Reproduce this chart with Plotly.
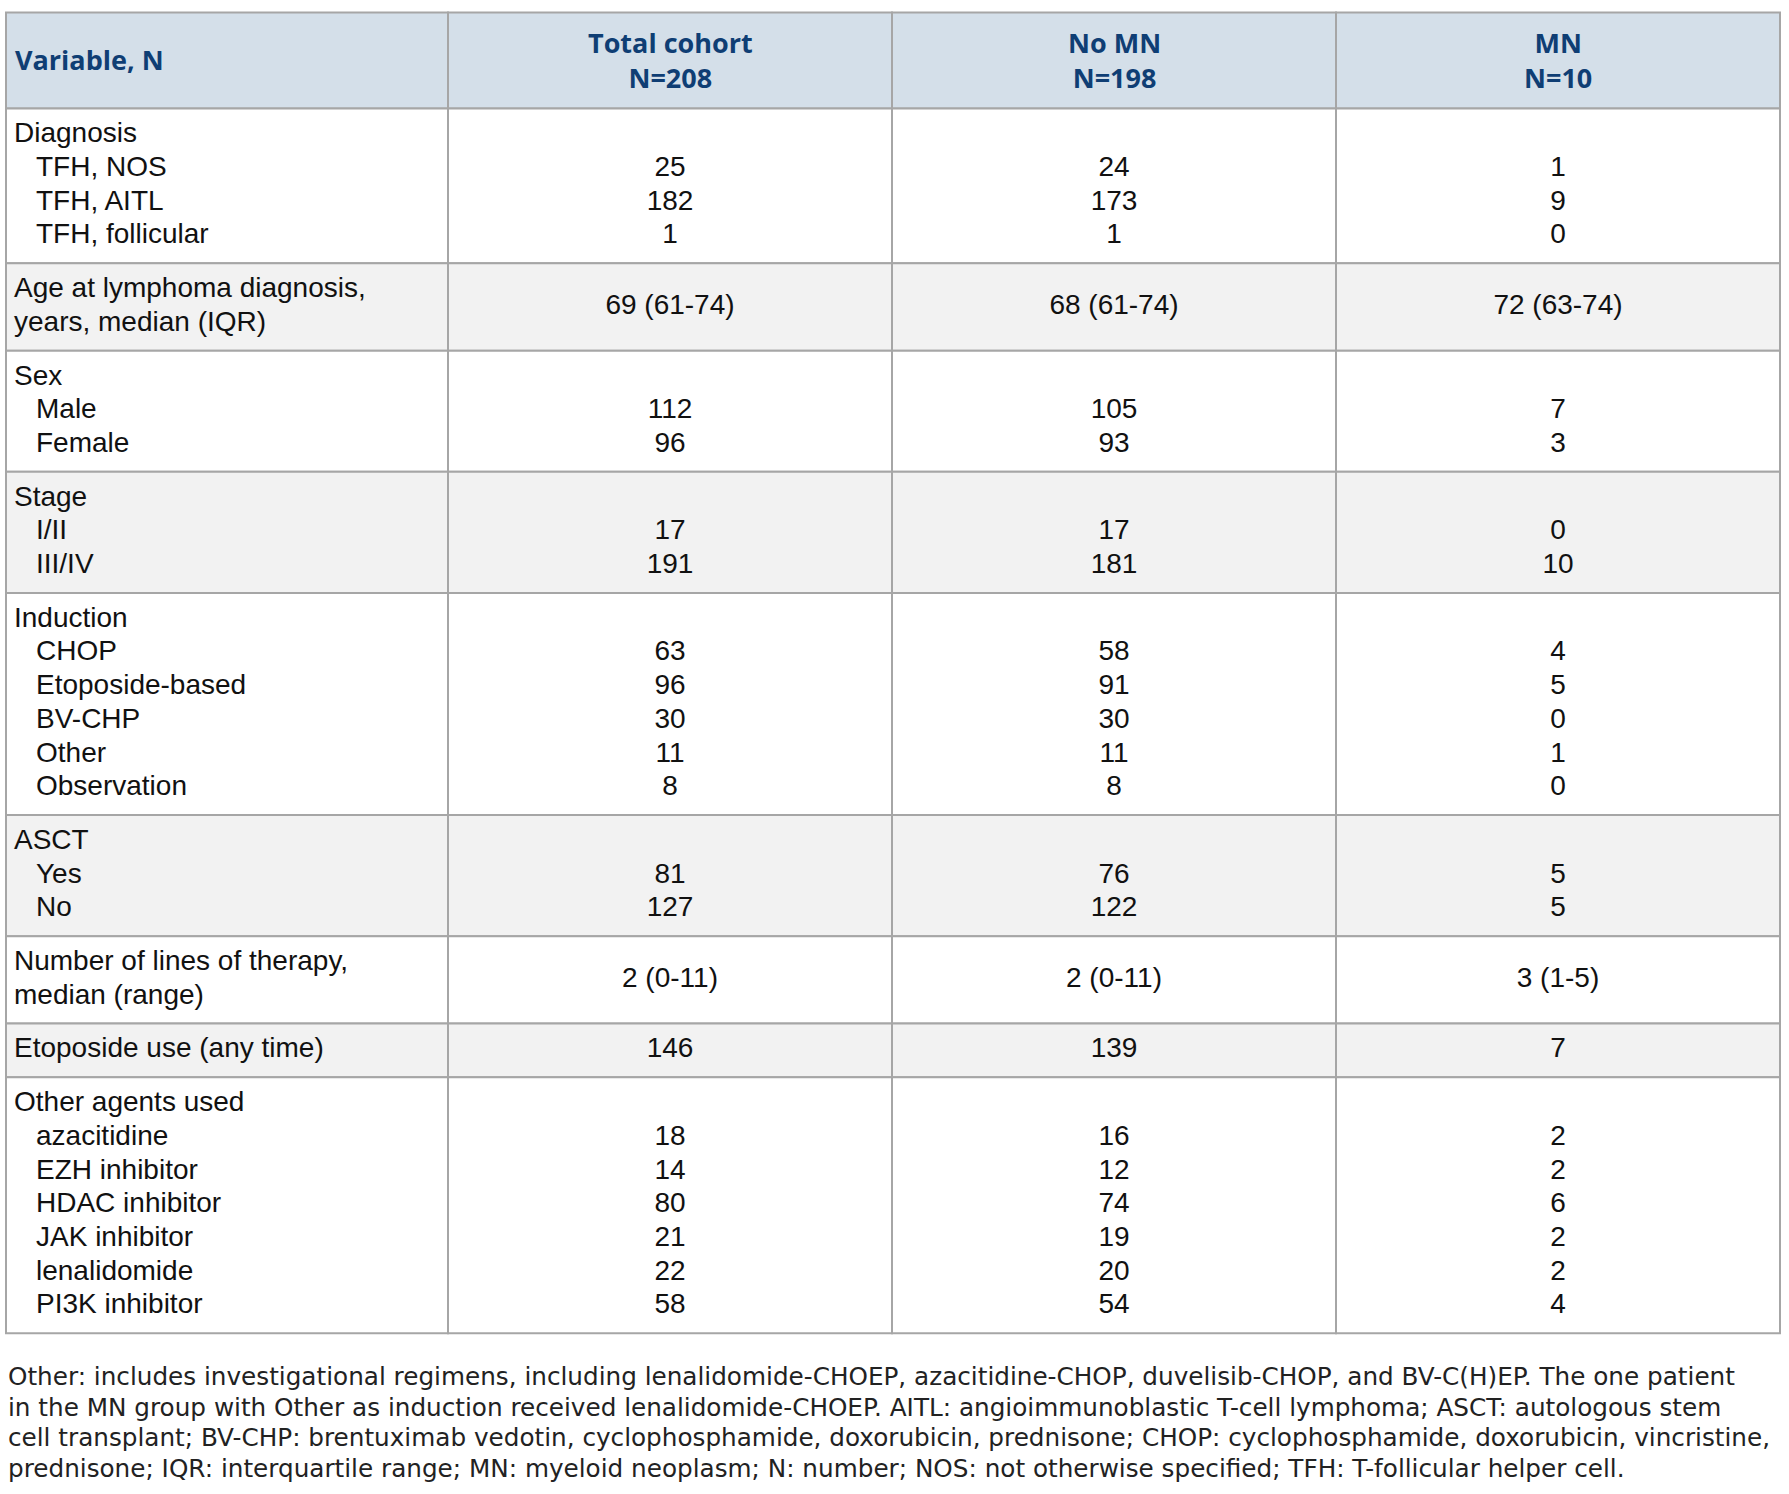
import plotly.graph_objects as go

# table content
columns = ["Variable, N", "Total cohort<br>N=208", "No MN<br>N=198", "MN<br>N=10"]

variables = ["Diagnosis",
             "Age at lymphoma diagnosis,<br>years, median (IQR)",
             "Sex", "Stage", "Induction", "ASCT",
             "Number of lines of therapy,<br>median (range)",
             "Etoposide use (any time)", "Other agents used"]
levels = [["TFH, NOS", "TFH, AITL", "TFH, follicular"],
          [],
          ["Male", "Female"],
          ["I/II", "III/IV"],
          ["CHOP", "Etoposide-based", "BV-CHP", "Other", "Observation"],
          ["Yes", "No"],
          [],
          [],
          ["azacitidine", "EZH inhibitor", "HDAC inhibitor", "JAK inhibitor",
           "lenalidomide", "PI3K inhibitor"]]
total_cohort = [[25, 182, 1], ["69 (61-74)"], [112, 96], [17, 191],
                [63, 96, 30, 11, 8], [81, 127], ["2 (0-11)"], [146],
                [18, 14, 80, 21, 22, 58]]
no_mn = [[24, 173, 1], ["68 (61-74)"], [105, 93], [17, 181],
         [58, 91, 30, 11, 8], [76, 122], ["2 (0-11)"], [139],
         [16, 12, 74, 19, 20, 54]]
mn = [[1, 9, 0], ["72 (63-74)"], [7, 3], [0, 10],
      [4, 5, 0, 1, 0], [5, 5], ["3 (1-5)"], [7],
      [2, 2, 6, 2, 2, 4]]

footnote = [
    "Other: includes investigational regimens, including lenalidomide-CHOEP, azacitidine-CHOP, duvelisib-CHOP, and BV-C(H)EP. The one patient",
    "in the MN group with Other as induction received lenalidomide-CHOEP. AITL: angioimmunoblastic T-cell lymphoma; ASCT: autologous stem",
    "cell transplant; BV-CHP: brentuximab vedotin, cyclophosphamide, doxorubicin, prednisone; CHOP: cyclophosphamide, doxorubicin, vincristine,",
    "prednisone; IQR: interquartile range; MN: myeloid neoplasm; N: number; NOS: not otherwise specified; TFH: T-follicular helper cell.",
]

# geometry / style
W, H = 1789, 1494
LEFT, TOP = 6, 12.5
COL_W = [442, 444, 444, 444]
HEADER_H = 96
LINE_H = 33.7
PAD = 20
INDENT = 22
BORDER = "#a6a6a6"
HEADER_BG = "#d4dfe9"
ALT_BG = "#f2f2f2"
BODY_FONT = dict(family="Liberation Sans, Arial", size=28, color="#111111")
HEAD_FONT = dict(family="Open Sans", size=27, color="#0f3e74")
NOTE_FONT = dict(family="DejaVu Sans", size=24.7, color="#222222")

col_x = [LEFT]
for w in COL_W:
    col_x.append(col_x[-1] + w)
col_mid = [(col_x[i] + col_x[i + 1]) / 2 for i in range(4)]

fig = go.Figure()
shapes = []

# header
for i, name in enumerate(columns):
    shapes.append(dict(type="rect", x0=col_x[i], x1=col_x[i + 1], y0=TOP, y1=TOP + HEADER_H,
                       fillcolor=HEADER_BG, line=dict(color=BORDER, width=2), layer="below"))
    fig.add_annotation(x=col_x[i] + 7 if i == 0 else col_mid[i], y=TOP + HEADER_H / 2 - 1,
                       text="<b>" + name + "</b>", showarrow=False,
                       xanchor="left" if i == 0 else "center", yanchor="middle",
                       align="left" if i == 0 else "center", font=HEAD_FONT)

lab_x, lab_y, lab_t = [], [], []
val_x, val_y, val_t = [], [], []
y = TOP + HEADER_H
for g, var in enumerate(variables):
    head_lines = var.split("<br>")
    n_lines = len(head_lines) + len(levels[g])
    h = n_lines * LINE_H + PAD
    bg = "white" if g % 2 == 0 else ALT_BG
    for i in range(4):
        shapes.append(dict(type="rect", x0=col_x[i], x1=col_x[i + 1], y0=y, y1=y + h,
                           fillcolor=bg, line=dict(color=BORDER, width=2), layer="below"))
    line_c = lambda k: y + PAD / 2 + (k + 0.5) * LINE_H
    for k, t in enumerate(head_lines):
        lab_x.append(col_x[0] + 8)
        lab_y.append(line_c(k))
        lab_t.append(t)
    for k, t in enumerate(levels[g]):
        lab_x.append(col_x[0] + 8 + INDENT)
        lab_y.append(line_c(len(head_lines) + k))
        lab_t.append(t)
    for c, series in enumerate([total_cohort, no_mn, mn]):
        vals = series[g]
        if levels[g]:
            ys = [line_c(len(head_lines) + k) for k in range(len(vals))]
        else:
            ys = [y + h / 2]
        for v, yy in zip(vals, ys):
            val_x.append(col_mid[c + 1])
            val_y.append(yy)
            val_t.append(str(v))
    y += h

fig.add_trace(go.Scatter(x=lab_x, y=lab_y, text=lab_t, mode="text",
                         textposition="middle right", textfont=BODY_FONT, hoverinfo="skip"))
fig.add_trace(go.Scatter(x=val_x, y=val_y, text=val_t, mode="text",
                         textposition="middle center", textfont=BODY_FONT, hoverinfo="skip"))

# footnote
for k, line in enumerate(footnote):
    fig.add_annotation(x=LEFT, y=y + 43 + k * 30.8, text=line, showarrow=False,
                       xanchor="left", yanchor="middle", font=NOTE_FONT)

fig.update_layout(
    width=W, height=H, margin=dict(l=0, r=0, t=0, b=0),
    plot_bgcolor="white", paper_bgcolor="white", showlegend=False,
    shapes=shapes,
    xaxis=dict(range=[0, W], visible=False, fixedrange=True),
    yaxis=dict(range=[H, 0], visible=False, fixedrange=True),
)

fig.write_html("out.html", config={"displayModeBar": False},
               post_script="document.body.style.margin = '0';")
